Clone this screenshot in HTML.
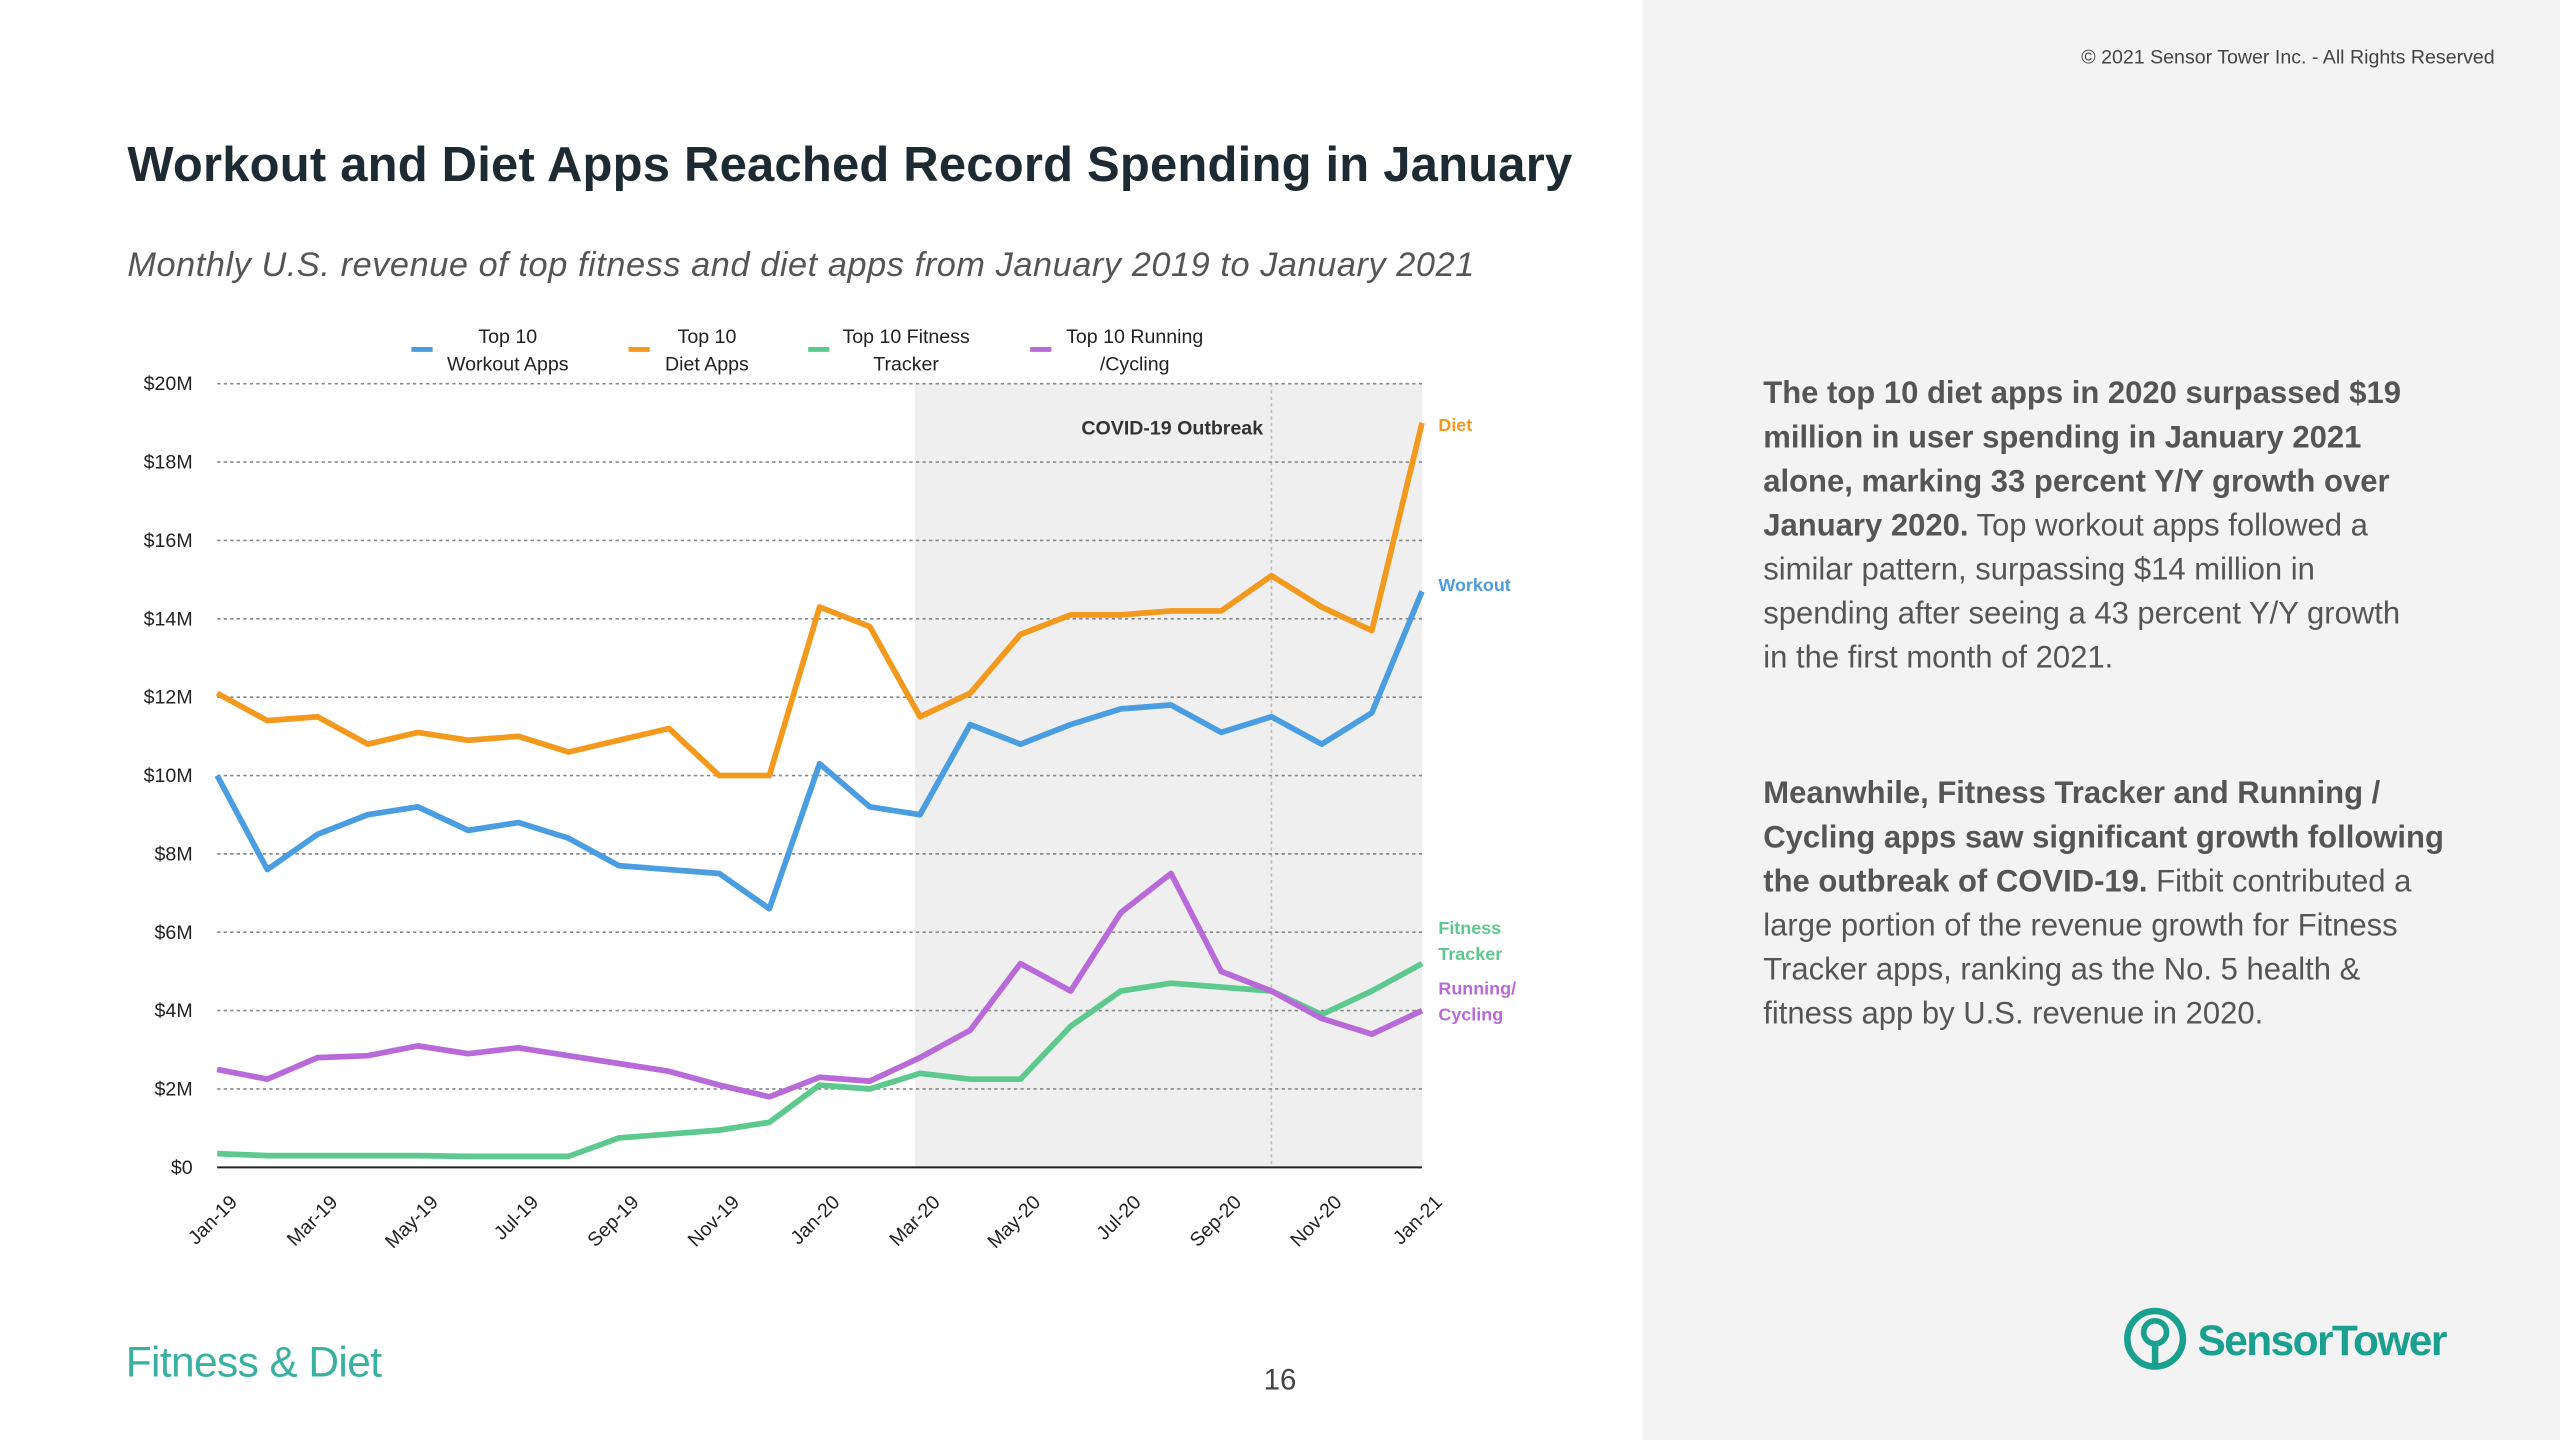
<!DOCTYPE html>
<html><head><meta charset="utf-8"><style>
html,body{margin:0;padding:0;background:#fff}
svg{display:block}
text{font-family:"Liberation Sans",sans-serif}
</style></head><body>
<svg width="2560" height="1440" viewBox="0 0 1568 882" xmlns="http://www.w3.org/2000/svg">
<rect x="0" y="0" width="1568" height="882" fill="#fff"/>
<rect x="1006" y="0" width="562" height="882" fill="#f3f3f3"/>
<text x="1528" y="39" font-size="12" fill="#444" text-anchor="end">© 2021 Sensor Tower Inc. - All Rights Reserved</text>
<text x="78" y="111" font-size="30" font-weight="bold" fill="#1e2a32" textLength="885">Workout and Diet Apps Reached Record Spending in January</text>
<text x="78" y="169" font-size="21" font-style="italic" fill="#555" textLength="825">Monthly U.S. revenue of top fitness and diet apps from January 2019 to January 2021</text>
<g id="chart"></g>
<g font-size="19" fill="#555">
<text x="1080" y="247" font-weight="bold">The top 10 diet apps in 2020 surpassed $19</text>
<text x="1080" y="274" font-weight="bold">million in user spending in January 2021</text>
<text x="1080" y="301" font-weight="bold">alone,  marking 33 percent Y/Y growth over</text>
<text x="1080" y="328"><tspan font-weight="bold">January 2020.</tspan> Top workout apps followed a</text>
<text x="1080" y="355">similar pattern, surpassing $14 million in</text>
<text x="1080" y="382">spending after seeing a 43 percent Y/Y growth</text>
<text x="1080" y="409">in the first month of 2021.</text>
<text x="1080" y="492" font-weight="bold">Meanwhile, Fitness Tracker and Running /</text>
<text x="1080" y="519" font-weight="bold">Cycling apps saw significant growth following</text>
<text x="1080" y="546"><tspan font-weight="bold">the outbreak of COVID-19.</tspan> Fitbit contributed a</text>
<text x="1080" y="573">large portion of the revenue growth for Fitness</text>
<text x="1080" y="600">Tracker apps, ranking as the No. 5 health &amp;</text>
<text x="1080" y="627">fitness app by U.S. revenue in 2020.</text>
</g>
<text x="77" y="843" font-size="26" fill="#3ab0a0" textLength="157">Fitness &amp; Diet</text>
<text x="784" y="851" font-size="18" fill="#444" text-anchor="middle">16</text>
<g>
<circle cx="1320" cy="820" r="17" fill="none" stroke="#1aa08e" stroke-width="4"/>
<circle cx="1320" cy="816" r="7" fill="none" stroke="#1aa08e" stroke-width="3.5"/>
<line x1="1320" y1="822" x2="1320" y2="838" stroke="#1aa08e" stroke-width="4"/>
<text x="1346" y="830" font-size="26" font-weight="bold" fill="#1aa08e" textLength="153">SensorTower</text>
</g>
</svg>
<script>
const months=["Jan-19","Feb-19","Mar-19","Apr-19","May-19","Jun-19","Jul-19","Aug-19","Sep-19","Oct-19","Nov-19","Dec-19","Jan-20","Feb-20","Mar-20","Apr-20","May-20","Jun-20","Jul-20","Aug-20","Sep-20","Oct-20","Nov-20","Dec-20","Jan-21"];
const workout=[10.0,7.6,8.5,9.0,9.2,8.6,8.8,8.4,7.7,7.6,7.5,6.6,10.3,9.2,9.0,11.3,10.8,11.3,11.7,11.8,11.1,11.5,10.8,11.6,14.7];
const diet=[12.1,11.4,11.5,10.8,11.1,10.9,11.0,10.6,10.9,11.2,10.0,10.0,14.3,13.8,11.5,12.1,13.6,14.1,14.1,14.2,14.2,15.1,14.3,13.7,19.0];
const fitness=[0.35,0.3,0.3,0.3,0.3,0.28,0.28,0.28,0.75,0.85,0.95,1.15,2.1,2.0,2.4,2.25,2.25,3.6,4.5,4.7,4.6,4.5,3.9,4.5,5.2];
const running=[2.5,2.25,2.8,2.85,3.1,2.9,3.05,2.85,2.65,2.45,2.1,1.8,2.3,2.2,2.8,3.5,5.2,4.5,6.5,7.5,5.0,4.5,3.8,3.4,4.0];
const yTicks=[0,2,4,6,8,10,12,14,16,18,20];
const yTickLabels=["$0","$2M","$4M","$6M","$8M","$10M","$12M","$14M","$16M","$18M","$20M"];
const NS="http://www.w3.org/2000/svg";
const g=document.getElementById('chart');
const X=i=>133+i*(738/24);
const Y=v=>715-v*24;
function mk(t,a,p){const e=document.createElementNS(NS,t);for(const k in a)e.setAttribute(k,a[k]);(p||g).appendChild(e);return e;}
let r=mk('rect',{x:X(13.9),y:Y(20),width:X(24)-X(13.9),height:Y(0)-Y(20),fill:'#efefef'});


let t=mk('text',{x:718,y:266,'font-size':12,'font-weight':'bold',fill:'#333','text-anchor':'middle'});t.textContent='COVID-19 Outbreak';


let vl=mk('line',{x1:X(21),x2:X(21),y1:Y(20),y2:Y(0),stroke:'#bbb','stroke-dasharray':'2,2'});


yTicks.forEach((v,i)=>{
 if(v>0){const l=mk('line',{x1:133,x2:871,y1:Y(v),y2:Y(v),stroke:'#888','stroke-dasharray':'2,2'});
 
 }
 const tx=mk('text',{x:118,y:Y(v)+4,'font-size':12,fill:'#222','text-anchor':'end'});tx.textContent=yTickLabels[i];
 
 
});
const ax=mk('line',{x1:133,x2:871,y1:Y(0),y2:Y(0),stroke:'#222','stroke-width':1.2});


months.forEach((m,i)=>{if(i%2)return;
 const ax0=X(i)+13,ay0=737;
 const tx=mk('text',{x:ax0,y:ay0,'font-size':12,fill:'#222','text-anchor':'end',transform:`rotate(-45 ${ax0} ${ay0})`});tx.textContent=m;
 
 
});
const series=[[workout,'#4a9de0','workout-line'],[diet,'#f39a1e','diet-line'],[fitness,'#5ec98e','fitness-tracker-line'],[running,'#b96ad9','running-cycling-line']];
series.forEach(([d,c,n])=>{
 const p=mk('polyline',{points:d.map((v,i)=>X(i)+','+Y(v)).join(' '),fill:'none',stroke:c,'stroke-width':3.5,'stroke-linejoin':'round'});
 
 
});
const ends=[['Diet',null,'#f39a1e',264],['Workout',null,'#4a9de0',362],['Fitness','Tracker','#5ec98e',572],['Running/','Cycling','#b96ad9',609]];
ends.forEach(([a,b,c,y])=>{
 const tx=mk('text',{x:881,y:y,'font-size':11,'font-weight':'bold',fill:c});tx.textContent=a;
 
 
 if(b){const t2=mk('text',{x:881,y:y+16,'font-size':11,'font-weight':'bold',fill:c});t2.textContent=b;
 
 }
});
const legend=[['Top 10','Workout Apps','#4a9de0',252,311],['Top 10','Diet Apps','#f39a1e',385,433],['Top 10 Fitness','Tracker','#5ec98e',495,555],['Top 10 Running','/Cycling','#b96ad9',631,695]];
legend.forEach(([a,b,c,lx,tx0])=>{
 const l=mk('line',{x1:lx,x2:lx+13,y1:214,y2:214,stroke:c,'stroke-width':3});
 
 
 const t1=mk('text',{x:tx0,y:210,'font-size':12,fill:'#222','text-anchor':'middle'});t1.textContent=a;
 
 
 const t2=mk('text',{x:tx0,y:227,'font-size':12,fill:'#222','text-anchor':'middle'});t2.textContent=b;
 
 
});
</script>
</body></html>
